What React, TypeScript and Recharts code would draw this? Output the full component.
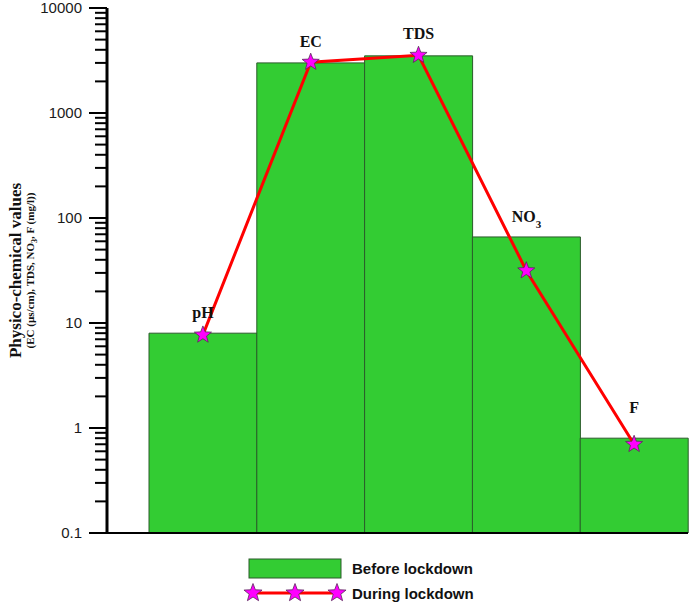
import React from 'react';
import { ComposedChart, Bar, Line, XAxis, YAxis, Legend, LabelList } from 'recharts';

const parameters = ['pH', 'EC', 'TDS', 'NO3', 'F'];
const beforeLockdown = [8, 3000, 3500, 66, 0.8];
const duringLockdown = [7.7, 3050, 3550, 31.5, 0.7];
const majorTicks = [0.1, 1, 10, 100, 1000, 10000];
const minorSteps = [2, 3, 4, 5, 6, 7, 8, 9];

const data = parameters.map((name, i) => ({
  name,
  before: beforeLockdown[i],
  during: duringLockdown[i],
}));

// extra lift for the parameter names above the bars
const labelLift = [15, 16, 17, 15, 25];

const GREEN = '#33cc33';
const BAR_EDGE = '#2b5b2b';
const STAR_FILL = '#ff00ff';
const STAR_EDGE = '#5a2a5a';

const DECADES = Math.log10(majorTicks[majorTicks.length - 1] / majorTicks[0]);

const starPoints = (cx: number, cy: number, outer: number, inner: number) => {
  const pts: string[] = [];
  for (let i = 0; i < 10; i++) {
    const r = i % 2 === 0 ? outer : inner;
    const a = -Math.PI / 2 + (i * Math.PI) / 5;
    pts.push(`${cx + r * Math.cos(a)},${cy + r * Math.sin(a)}`);
  }
  return pts.join(' ');
};

const StarDot = (props: any) => {
  const { cx, cy, index } = props;
  if (cx == null || cy == null) return null;
  return (
    <polygon
      key={`star-${index}`}
      points={starPoints(cx, cy, 9, 3.8)}
      fill={STAR_FILL}
      stroke={STAR_EDGE}
      strokeWidth={0.8}
    />
  );
};

// decade tick with its label, plus the 2..9 minor marks of the decade above it
const YTick = (props: any) => {
  const { x, y, payload, height } = props;
  const v = Number(payload.value);
  const axisHeight = Number(height) > 0 ? Number(height) : 525;
  const decadePx = axisHeight / DECADES;
  const isTop = v >= majorTicks[majorTicks.length - 1];
  return (
    <g>
      <line x1={x - 18} x2={x} y1={y} y2={y} stroke="#000" strokeWidth={2} />
      {!isTop &&
        minorSteps.map((k) => {
          const my = y - decadePx * Math.log10(k);
          return <line key={k} x1={x - 12} x2={x} y1={my} y2={my} stroke="#000" strokeWidth={2} />;
        })}
      <text
        x={x - 25}
        y={y}
        dy={5}
        textAnchor="end"
        fontFamily="'Liberation Sans', Arial, sans-serif"
        fontSize={15}
        fill="#1a1a1a"
      >
        {String(v)}
      </text>
    </g>
  );
};

const YLabel = (props: any) => {
  const vb = props.viewBox || { x: 0, y: 8, height: 525 };
  const cy = vb.y + vb.height / 2;
  return (
    <g fontFamily="'Liberation Serif', 'Times New Roman', serif" fill="#111">
      <text
        x={15}
        y={cy}
        transform={`rotate(-90, 15, ${cy})`}
        textAnchor="middle"
        dominantBaseline="central"
        fontSize={17}
        fontWeight="bold"
      >
        Physico-chemical values
      </text>
      <text
        x={30}
        y={cy}
        transform={`rotate(-90, 30, ${cy})`}
        textAnchor="middle"
        dominantBaseline="central"
        fontSize={11}
        fontWeight="bold"
      >
        (EC (µs/cm), TDS, NO<tspan baselineShift="sub" fontSize={8}>3</tspan>, F (mg/l))
      </text>
    </g>
  );
};

const TopLabel = (props: any) => {
  const { x, y, width, value, index } = props;
  const cx = x + width / 2;
  const ty = y - (labelLift[index] ?? 15);
  const style = {
    fontFamily: "'Liberation Serif', 'Times New Roman', serif",
    fontSize: 16,
    fontWeight: 'bold' as const,
    fill: '#111',
  };
  if (value === 'NO3') {
    return (
      <text x={cx} y={ty} textAnchor="middle" {...style}>
        NO<tspan baselineShift="sub" fontSize={11}>3</tspan>
      </text>
    );
  }
  return (
    <text x={cx} y={ty} textAnchor="middle" {...style}>
      {value}
    </text>
  );
};

const LegendBox = () => (
  <div style={{ height: 45 }}>
    <svg width={689} height={45} style={{ display: 'block' }}>
      <g fontFamily="'Liberation Sans', Arial, sans-serif" fontSize={15} fontWeight="bold" fill="#111">
        <rect x={249} y={2} width={92} height={19} fill={GREEN} stroke={BAR_EDGE} strokeWidth={1} />
        <text x={352} y={17}>Before lockdown</text>
        <line x1={253} x2={337} y1={36} y2={36} stroke="#ff0000" strokeWidth={3} />
        {[253, 295, 337].map((sx) => (
          <polygon key={sx} points={starPoints(sx, 36, 9.5, 4)} fill={STAR_FILL} stroke={STAR_EDGE} strokeWidth={0.8} />
        ))}
        <text x={352} y={42}>During lockdown</text>
      </g>
    </svg>
  </div>
);

export default function App() {
  return (
    <div style={{ position: 'absolute', left: 0, top: 0, background: '#fff' }}>
      <ComposedChart
        width={689}
        height={606}
        data={data}
        margin={{ top: 8, right: 1, left: 0, bottom: 4 }}
        barCategoryGap={0}
      >
        <XAxis
          dataKey="name"
          tick={false}
          tickLine={false}
          height={24}
          padding={{ left: 42, right: 0 }}
          axisLine={{ stroke: '#000', strokeWidth: 2 }}
        />
        <YAxis
          type="number"
          scale="log"
          domain={[0.1, 10000]}
          allowDataOverflow
          ticks={majorTicks}
          interval={0}
          tick={YTick}
          tickLine={false}
          tickSize={0}
          tickMargin={0}
          width={107}
          axisLine={{ stroke: '#000', strokeWidth: 3 }}
          label={{ content: YLabel }}
        />
        <Legend verticalAlign="bottom" content={LegendBox} wrapperStyle={{ left: 0, width: 689 }} />
        <Bar dataKey="before" name="Before lockdown" fill={GREEN} stroke={BAR_EDGE} strokeWidth={1} isAnimationActive={false}>
          <LabelList dataKey="name" content={TopLabel} />
        </Bar>
        <Line
          dataKey="during"
          name="During lockdown"
          type="linear"
          stroke="#ff0000"
          strokeWidth={3}
          dot={StarDot}
          activeDot={false}
          isAnimationActive={false}
        />
      </ComposedChart>
    </div>
  );
}
